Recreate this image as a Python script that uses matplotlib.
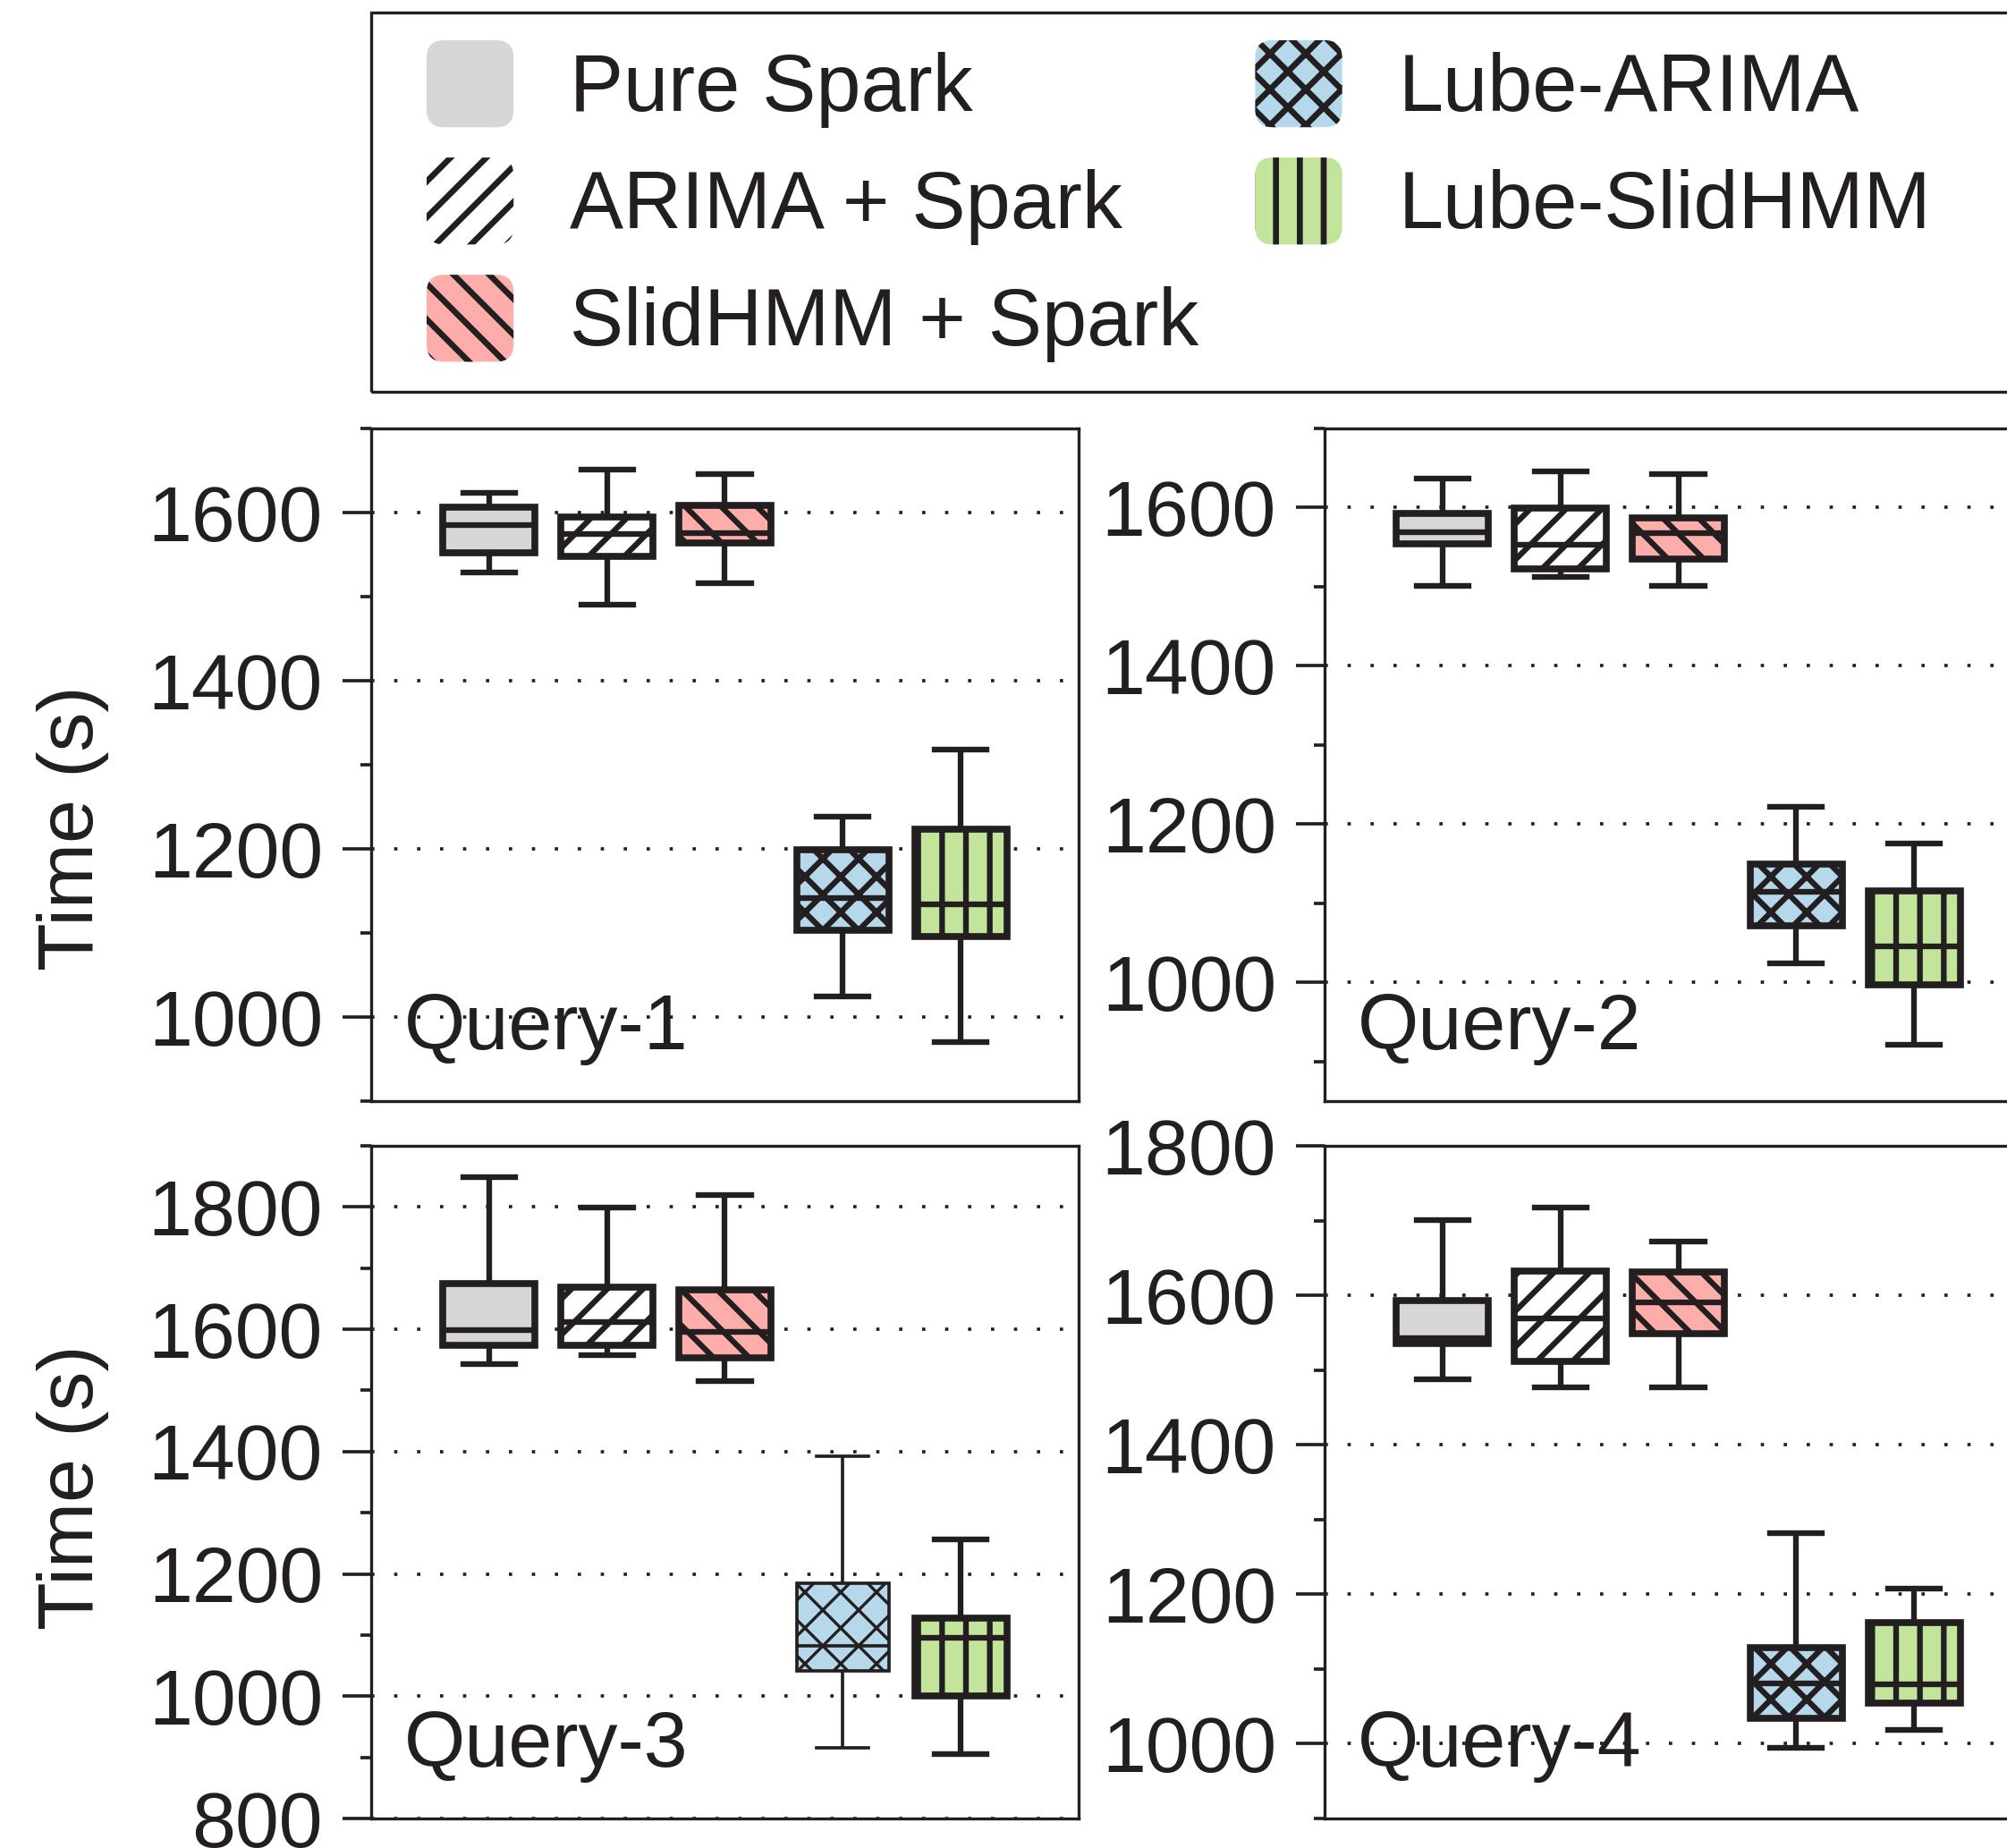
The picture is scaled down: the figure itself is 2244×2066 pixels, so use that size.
import matplotlib
matplotlib.use('Agg')
import matplotlib.pyplot as plt
from matplotlib.patches import FancyBboxPatch, Patch, Rectangle
from matplotlib.legend_handler import HandlerPatch
from matplotlib.ticker import MultipleLocator

plt.rcParams['font.family'] = ['Liberation Sans', 'DejaVu Sans']
plt.rcParams['hatch.linewidth'] = 0.95

EDGE = '#231F20'

methods = ['Pure Spark', 'ARIMA + Spark', 'SlidHMM + Spark', 'Lube-ARIMA', 'Lube-SlidHMM']
queries = ['Query-1', 'Query-2', 'Query-3', 'Query-4']
face_colors = ['#D6D6D6', '#FFFFFF', '#FDAEAA', '#B5D8EB', '#C2E59B']
hatches = ['', '////', '\\\\\\\\', 'xxxx', '|||']

# Query-1
q1_lo = [1529, 1490, 1516, 1024, 970]
q1_q1 = [1552, 1548, 1564, 1103, 1096]
q1_med = [1585, 1574, 1576, 1142, 1134]
q1_q3 = [1606, 1595, 1609, 1199, 1223]
q1_hi = [1623, 1651, 1646, 1238, 1318]
# Query-2
q2_lo = [1501, 1512, 1501, 1024, 921]
q2_q1 = [1554, 1522, 1535, 1072, 997]
q2_med = [1569, 1553, 1568, 1115, 1046]
q2_q3 = [1593, 1599, 1587, 1149, 1116]
q2_hi = [1637, 1646, 1642, 1222, 1176]
# Query-3
q3_lo = [1543, 1558, 1516, 915, 905]
q3_q1 = [1574, 1574, 1554, 1042, 1001]
q3_med = [1599, 1612, 1596, 1082, 1096]
q3_q3 = [1675, 1669, 1665, 1184, 1127]
q3_hi = [1849, 1799, 1819, 1392, 1256]
# Query-4
q4_lo = [1488, 1477, 1477, 995, 1018]
q4_q1 = [1536, 1511, 1549, 1034, 1054]
q4_med = [1543, 1569, 1590, 1081, 1079]
q4_q3 = [1593, 1632, 1631, 1129, 1162]
q4_hi = [1701, 1717, 1672, 1282, 1208]

ylims = [(900, 1700), (850, 1700), (800, 1900), (900, 1800)]

W, H = 2244, 2066
DPI = 480
fig = plt.figure(figsize=(W / DPI, H / DPI), dpi=DPI)

ax_w = 791 / W
ax_h = 752 / H
lefts = [415 / W, 1481 / W]
bottoms = [1 - 1231 / H, 1 - 2033 / H]
axes_pos = [(lefts[0], bottoms[0]), (lefts[1], bottoms[0]),
            (lefts[0], bottoms[1]), (lefts[1], bottoms[1])]

data = [
    (q1_lo, q1_q1, q1_med, q1_q3, q1_hi),
    (q2_lo, q2_q1, q2_med, q2_q3, q2_hi),
    (q3_lo, q3_q1, q3_med, q3_q3, q3_hi),
    (q4_lo, q4_q1, q4_med, q4_q3, q4_hi),
]

FS = 13.2
for i, (pos, d, yl, qname) in enumerate(zip(axes_pos, data, ylims, queries)):
    ax = fig.add_axes([pos[0], pos[1], ax_w, ax_h])
    lo, a, m, b, hi = d
    stats = [dict(med=m[k], q1=a[k], q3=b[k], whislo=lo[k], whishi=hi[k], fliers=[])
             for k in range(len(methods))]
    res = ax.bxp(stats, positions=[1, 2, 3, 4, 5], widths=0.78, capwidths=0.44,
                 patch_artist=True, showfliers=False, manage_ticks=False,
                 boxprops=dict(linewidth=1.15, edgecolor=EDGE),
                 whiskerprops=dict(linewidth=0.95, color=EDGE, solid_capstyle='butt'),
                 capprops=dict(linewidth=0.95, color=EDGE),
                 medianprops=dict(linewidth=0.95, color=EDGE, solid_capstyle='butt'))
    for k, patch in enumerate(res['boxes']):
        patch.set_facecolor(face_colors[k])
        patch.set_hatch(hatches[k])
        patch.set_zorder(3)
    for art in res['whiskers'] + res['caps'] + res['medians']:
        art.set_zorder(4)
    if i == 2:
        # thinner strokes for Lube-ARIMA in Query-3
        res['boxes'][3].set_linewidth(0.55)
        if hasattr(res['boxes'][3], 'set_hatch_linewidth'):
            res['boxes'][3].set_hatch_linewidth(0.5)
        for art in res['whiskers'][6:8] + res['caps'][6:8] + [res['medians'][3]]:
            art.set_linewidth(0.55)

    ax.set_xlim(0, 6)
    ax.set_ylim(*yl)
    ax.yaxis.set_major_locator(MultipleLocator(200))
    ax.yaxis.set_minor_locator(MultipleLocator(100))
    ax.set_xticks([])
    ax.tick_params(axis='y', which='major', length=4.8, width=0.55, pad=3.3,
                   labelsize=FS, direction='out', color=EDGE, labelcolor=EDGE)
    ax.tick_params(axis='y', which='minor', length=1.8, width=0.55,
                   direction='out', color=EDGE)
    for sp in ax.spines.values():
        sp.set_color(EDGE)
        sp.set_linewidth(0.5)
    ax.yaxis.grid(True, which='major', linestyle=(0, (1, 6)), linewidth=0.55, color=EDGE)
    ax.set_axisbelow(True)
    ax.text(0.046, 0.077, qname, transform=ax.transAxes, fontsize=FS,
            ha='left', va='baseline', color=EDGE, zorder=5)
    if i == 0:
        ax.text(-0.421, 0.4056, 'Time (s)', rotation=90, transform=ax.transAxes,
                fontsize=FS, ha='center', va='center', color=EDGE)
    if i == 2:
        ax.text(-0.421, 0.492, 'Time (s)', rotation=90, transform=ax.transAxes,
                fontsize=FS, ha='center', va='center', color=EDGE)


class RoundHandler(HandlerPatch):
    def create_artists(self, legend, orig_handle, xdescent, ydescent, width, height,
                       fontsize, trans):
        r = 0.2 * min(width, height)
        p = FancyBboxPatch((-xdescent, -ydescent), width, height,
                           boxstyle=f"round,pad=0,rounding_size={r}",
                           facecolor=orig_handle.get_facecolor(),
                           edgecolor=EDGE, linewidth=0,
                           hatch=orig_handle.get_hatch(), transform=trans)
        if hasattr(p, 'set_hatch_linewidth'):
            p.set_hatch_linewidth(1.0)
        return [p]


handles = [Patch(facecolor=c, edgecolor=EDGE, hatch=h, label=mname)
           for c, h, mname in zip(face_colors, hatches, methods)]
leg = fig.legend(handles=handles, labels=methods, loc='upper left',
                 bbox_to_anchor=(477 / W, 1 - 45 / H), bbox_transform=fig.transFigure,
                 ncol=2, frameon=False, fontsize=13.5, handlelength=1.08,
                 handleheight=1.285, handletextpad=0.7, labelspacing=0.37,
                 columnspacing=0.7, borderpad=0, borderaxespad=0,
                 handler_map={Patch: RoundHandler()})
for t in leg.get_texts():
    t.set_color(EDGE)

frame = Rectangle((415 / W, 1 - 438 / H), 0.9, (438 - 14) / H,
                  transform=fig.transFigure, fill=False, edgecolor=EDGE, linewidth=0.5)
fig.add_artist(frame)

fig.savefig('out.png', dpi=DPI)
